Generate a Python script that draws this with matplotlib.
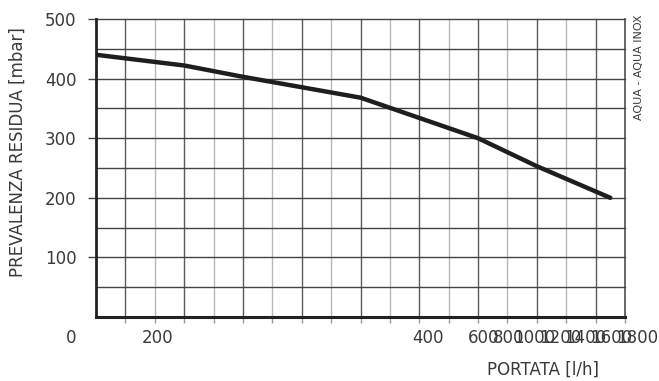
import matplotlib
matplotlib.use("Agg")
import matplotlib.pyplot as plt
import numpy as np

# Data
flow = [0, 300, 500, 900, 1300, 1500, 1750]          # l/h
head = [440, 422, 403, 368, 300, 253, 200]            # mbar

y_ticks = [100, 200, 300, 400, 500]
x_tick_labels = ['0', '200', '400', '600', '800', '1000', '1200', '1400', '1600', '1800']
# where the (misplaced) x labels sit in the reference, in data units
x_label_pos = [-85, 210, 1130, 1320, 1405, 1492, 1579, 1666, 1753, 1840]

fig = plt.figure(figsize=(6.59, 3.81), dpi=100)
ax = fig.add_axes([96/659, 1-317/381, (625-96)/659, (317-19)/381])
ax.set_xlim(0, 1800)
ax.set_ylim(0, 500)

txt = '#3a3a3a'
# grid
for xv in np.arange(100, 1801, 100):
    odd = (xv // 100) % 2 == 1
    dark = odd or xv == 1800
    ax.axvline(xv, color='#5a5a5a' if dark else '#b8b8b8',
               lw=1.3 if xv == 1800 else 1.0, zorder=1, clip_on=False)
for yv in np.arange(50, 501, 50):
    ax.axhline(yv, color='#444444', lw=1.0, zorder=1, clip_on=False)

ax.plot(flow, head, color='#1e1e1e', lw=3.2, solid_capstyle='round', zorder=3)

for s in ['top', 'right']:
    ax.spines[s].set_visible(False)
ax.spines['left'].set_linewidth(2.0)
ax.spines['bottom'].set_linewidth(2.2)
ax.spines['left'].set_color('#222222')
ax.spines['bottom'].set_color('#222222')

ax.set_yticks(y_ticks)
ax.set_yticklabels([str(v) for v in y_ticks])
ax.tick_params(axis='y', length=6, width=1.0, color='#444444', pad=8,
               labelsize=12, labelcolor=txt)
ax.set_xticks(np.arange(100, 1801, 100))
ax.set_xticklabels([])
ax.tick_params(axis='x', length=4, width=1.0, color='#999999')

for lab, pos in zip(x_tick_labels, x_label_pos):
    ax.text(pos, -0.07, lab, transform=ax.get_xaxis_transform(),
            ha='center', va='center', fontsize=12, color=txt, clip_on=False)

fig.text(18/659, 1-152/381, 'PREVALENZA RESIDUA [mbar]', rotation=90,
         ha='center', va='center', fontsize=12, color=txt)
fig.text(543/659, 1-370/381, 'PORTATA [l/h]', ha='center', va='center',
         fontsize=12, color=txt)
fig.text(639/659, 1-67/381, 'AQUA - AQUA INOX', rotation=90,
         ha='center', va='center', fontsize=8, color=txt)

fig.savefig('out.png', dpi=100, facecolor='white')
